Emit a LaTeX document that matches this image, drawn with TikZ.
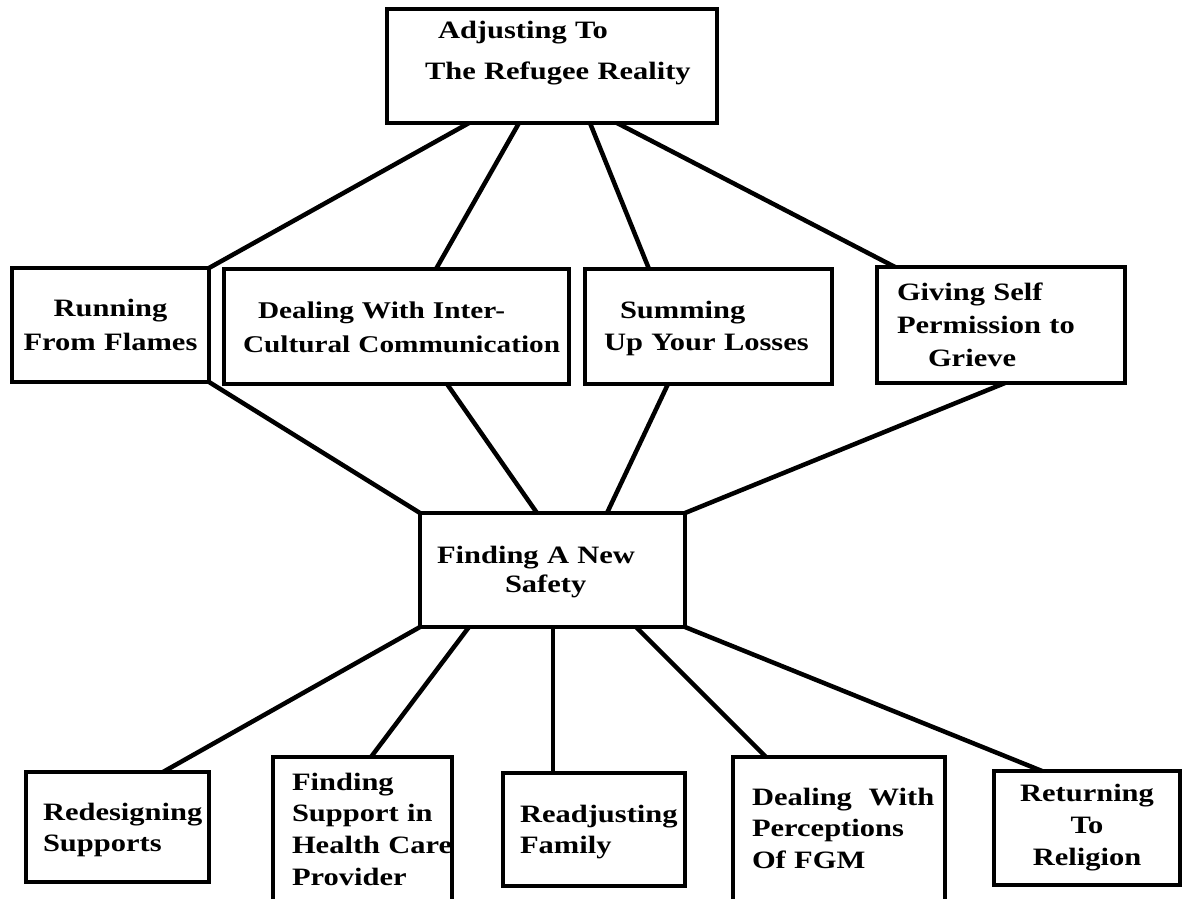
\documentclass[tikz,border=0pt]{standalone}
\usepackage{fontspec}
\setmainfont{Liberation Serif}[FakeStretch=1.22]
\hyphenpenalty=10000
\exhyphenpenalty=10000
\tikzset{
  box/.style={draw, line width=4pt, rectangle, anchor=north west, outer sep=0pt,
    inner ysep=0pt, align=left, font=\fontsize{25}{33}\selectfont\bfseries},
  link/.style={line width=4.5pt}
}

\begin{document}
\begin{tikzpicture}[x=1pt,y=-1pt]
      \useasboundingbox (0,0) rectangle (1187,899);

      % top
      \node[box, inner xsep=38pt, text width=254pt, text height=30pt, text depth=84pt,
        font=\fontsize{25}{41}\selectfont\bfseries] (reality) at (387,9)
        {\hspace*{13pt}Adjusting~To\\The~Refugee~Reality};

      % middle row
      \node[box, align=center, inner xsep=6pt, text width=185pt, text height=48pt, text depth=66pt,
        font=\fontsize{25}{34}\selectfont\bfseries] (flames) at (12,268) {Running\\From~Flames};
      \node[box, inner xsep=19pt, text width=307pt, text height=49pt, text depth=66pt,
        font=\fontsize{24}{34}\selectfont\bfseries] (intercult) at (224,269)
        {\hspace*{15pt}Dealing~With~Inter-\\Cultural~Communication};
      \node[box, inner xsep=19pt, text width=209pt, text height=49pt, text depth=66pt,
        font=\fontsize{25}{32}\selectfont\bfseries] (losses) at (585,269) {\hspace*{16pt}Summing\\Up~Your~Losses};
      \node[box, inner xsep=20pt, text width=208pt, text height=33pt, text depth=83pt] (grieve) at (877,267)
        {Giving~Self\\Permission~to\\\hspace*{31pt}Grieve};

      % centre
      \node[box, inner xsep=17pt, text width=231pt, text height=50pt, text depth=64pt,
        font=\fontsize{25}{29}\selectfont\bfseries] (safety) at (420,513) {Finding~A~New\\\hspace*{68pt}Safety};

      % bottom row
      \node[box, inner xsep=17pt, text width=149pt, text height=48pt, text depth=62pt,
        font=\fontsize{25}{31}\selectfont\bfseries] (supports) at (26,772) {Redesigning\\Supports};
      \node[box, inner xsep=19pt, text width=141pt, text height=33pt, text depth=148pt,
        font=\fontsize{25}{31.7}\selectfont\bfseries] (provider) at (273,757) {Finding\\Support~in\\Health~Care\\Provider};
      \node[box, inner xsep=17pt, text width=148pt, text height=49pt, text depth=64pt,
        font=\fontsize{25}{31}\selectfont\bfseries] (family) at (503,773) {Readjusting\\Family};
      \node[box, inner xsep=19pt, text width=174pt, text height=48pt, text depth=100pt,
        font=\fontsize{25}{31.5}\selectfont\bfseries] (fgm) at (733,757) {Dealing~~With\\Perceptions\\Of~FGM};
      \node[box, align=center, inner xsep=6pt, text width=174pt, text height=30pt, text depth=84pt,
        font=\fontsize{25}{32}\selectfont\bfseries] (religion) at (994,771) {Returning\\To\\Religion};

      % top to middle
      \draw[link] ([xshift=82pt]reality.south west) -- (flames.north east);
      \draw[link] ([xshift=132pt]reality.south west) -- ([xshift=212pt]intercult.north west);
      \draw[link] ([xshift=203pt]reality.south west) -- ([xshift=64pt]losses.north west);
      \draw[link] ([xshift=230pt]reality.south west) -- ([xshift=18pt]grieve.north west);

      % middle to centre
      \draw[link] (flames.south east) -- (safety.north west);
      \draw[link] ([xshift=223pt]intercult.south west) -- ([xshift=117pt]safety.north west);
      \draw[link] ([xshift=83pt]losses.south west) -- ([xshift=187pt]safety.north west);
      \draw[link] ([xshift=128pt]grieve.south west) -- (safety.north east);

      % centre to bottom
      \draw[link] (safety.south west) -- ([xshift=137pt]supports.north west);
      \draw[link] ([xshift=49pt]safety.south west) -- ([xshift=98pt]provider.north west);
      \draw[link] ([xshift=133pt]safety.south west) -- ([xshift=50pt]family.north west);
      \draw[link] ([xshift=216pt]safety.south west) -- ([xshift=33pt]fgm.north west);
      \draw[link] (safety.south east) -- ([xshift=48pt]religion.north west);
    \end{tikzpicture}
\end{document}
